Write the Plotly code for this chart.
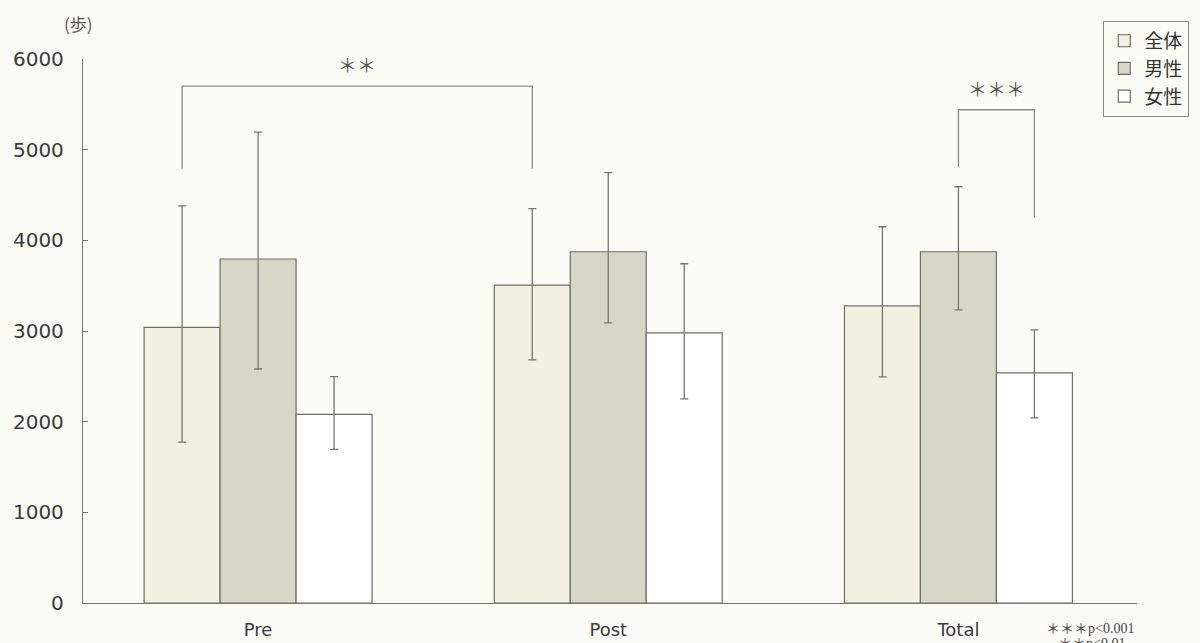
import plotly.graph_objects as go

# ---------------- data ----------------
categories = ["Pre", "Post", "Total"]
series_names = ["全体", "男性", "女性"]

mean_all = [3040, 3507, 3278]
mean_male = [3794, 3874, 3874]
mean_female = [2081, 2980, 2539]

err_plus_all = [1340, 842, 872]
err_minus_all = [1265, 825, 784]
err_plus_male = [1400, 872, 717]
err_minus_male = [1213, 784, 640]
err_plus_female = [415, 762, 474]
err_minus_female = [386, 728, 497]

y_ticks = [0, 1000, 2000, 3000, 4000, 5000, 6000]

# significance brackets: (cat_a, series_a, cat_b, series_b, leg_a_bottom, leg_b_bottom, top, label)
brackets = [
    (0, 0, 1, 0, 4790, 4790, 5700, "＊＊"),
    (2, 1, 2, 2, 4810, 4250, 5440, "＊＊＊"),
]

# ---------------- styling ----------------
BG = "#fcfcf6"
fills = ["#f2f0e0", "#d7d7c8", "#ffffff"]
OUTLINE = "#6e6e66"
ERRC = "#77776e"
GROUP_W = 0.651
BAR_W = GROUP_W / 3

fig = go.Figure()
means = [mean_all, mean_male, mean_female]
eps = [err_plus_all, err_plus_male, err_plus_female]
ems = [err_minus_all, err_minus_male, err_minus_female]
for i, name in enumerate(series_names):
    fig.add_trace(go.Bar(
        name=name, x=categories, y=means[i],
        marker=dict(color=fills[i], line=dict(color=OUTLINE, width=1.2)),
        error_y=dict(type="data", symmetric=False, array=eps[i], arrayminus=ems[i],
                     color=ERRC, thickness=1.3, width=4),
    ))

def xpos(cat, series):
    return cat + (series - 1) * BAR_W

for ca, sa, cb, sb, la, lb, top, label in brackets:
    xa, xb = xpos(ca, sa), xpos(cb, sb)
    path = f"M {xa} {la} L {xa} {top} L {xb} {top} L {xb} {lb}"
    fig.add_shape(type="path", path=path, xref="x", yref="y",
                  line=dict(color="#8a8a80", width=1.3))
    fig.add_annotation(x=(xa + xb) / 2, y=top, xref="x", yref="y", text=label,
                       showarrow=False, yanchor="bottom", yshift=6,
                       font=dict(family="Noto Sans CJK JP", size=19, color="#555550"))

# y unit label
fig.add_annotation(x=-0.004, y=1.066, xref="paper", yref="paper", text="(歩)",
                   showarrow=False, xanchor="center", yanchor="middle",
                   font=dict(family="Noto Sans CJK JP", size=17, color="#555550"))

# footnotes
fig.add_annotation(x=0.999, y=-0.044, xref="paper", yref="paper",
                   text="<span style='font-family:Noto Sans CJK JP;font-size:14px'>＊＊＊</span>p&lt;0.001",
                   showarrow=False, xanchor="right", yanchor="middle",
                   font=dict(family="Liberation Serif", size=14, color="#444440"))
fig.add_annotation(x=0.9905, y=-0.071, xref="paper", yref="paper",
                   text="<span style='font-family:Noto Sans CJK JP;font-size:14px'>＊＊</span>p&lt;0.01",
                   showarrow=False, xanchor="right", yanchor="middle",
                   font=dict(family="Liberation Serif", size=14, color="#444440"))

fig.update_layout(
    width=1200, height=643,
    margin=dict(l=83, r=63, t=59, b=40, autoexpand=False),
    paper_bgcolor=BG, plot_bgcolor=BG,
    barmode="group", bargap=1 - GROUP_W, bargroupgap=0,
    showlegend=True,
    legend=dict(x=0.968, y=1.07, xanchor="left", yanchor="top",
                bordercolor="#8a8a80", borderwidth=1, bgcolor=BG,
                font=dict(family="Noto Sans CJK JP", size=19, color="#333330"),
                traceorder="normal", tracegroupgap=0),
    xaxis=dict(range=[-0.5, 2.51], showline=True, linecolor="#77776e", linewidth=1.3,
               ticks="", showgrid=False, zeroline=False, ticklabelstandoff=10,
               automargin=False,
               tickfont=dict(family="DejaVu Sans", size=18, color="#3a3a3a")),
    yaxis=dict(range=[0, 6000], tickvals=y_ticks, showline=True, linecolor="#77776e",
               linewidth=1.3, ticks="inside", ticklen=5, tickcolor="#77776e",
               showgrid=False, zeroline=False, ticklabelstandoff=14,
               automargin=False,
               tickfont=dict(family="DejaVu Sans", size=20, color="#3a3a3a")),
)

fig.write_html("out.html")
